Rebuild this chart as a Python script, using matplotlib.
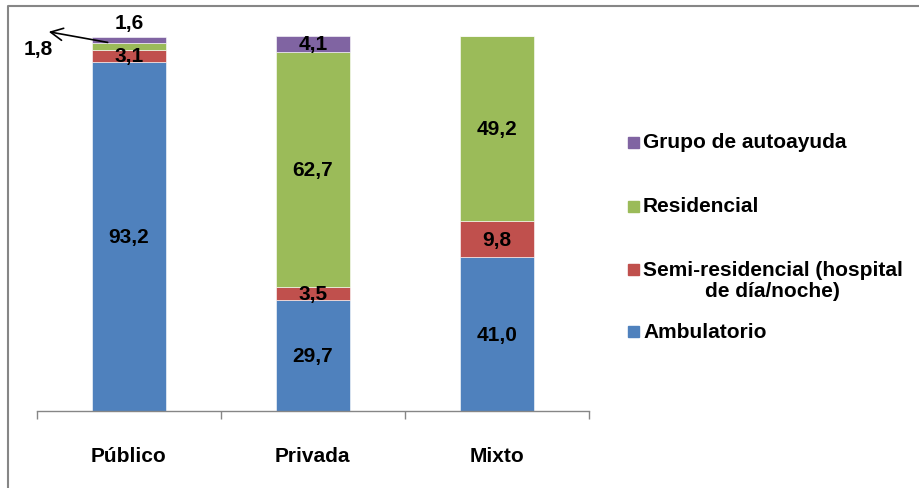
import numpy as np
import matplotlib.pyplot as plt
from matplotlib.lines import Line2D
from matplotlib.patches import Rectangle

plt.rcParams['font.family'] = ['Liberation Sans', 'DejaVu Sans']

categorias = ['Público', 'Privada', 'Mixto']
series = ['Ambulatorio', 'Semi-residencial (hospital\nde día/noche)', 'Residencial', 'Grupo de autoayuda']
ambulatorio = [93.2, 29.7, 41.0]
semi = [3.1, 3.5, 9.8]
residencial = [1.8, 62.7, 49.2]
autoayuda = [1.6, 4.1, 0.0]
colores = ['#4F81BD', '#C0504D', '#9BBB59', '#8064A2']

valores = [ambulatorio, semi, residencial, autoayuda]

fig = plt.figure(figsize=(9.2, 4.89), dpi=100)
ax = fig.add_axes([0.040, 0.157, 0.600, 0.767])

x = np.arange(len(categorias))
base = np.zeros(len(categorias))
for i, vals in enumerate(valores):
    vals = np.array(vals)
    ax.bar(x, vals, 0.4, bottom=base, color=colores[i], edgecolor='white', linewidth=0.4)
    for j in range(len(categorias)):
        if vals[j] <= 0:
            continue
        txt = f'{vals[j]:.1f}'.replace('.', ',')
        if j == 0 and i == 3:
            # por encima de la barra
            ax.text(x[j], base[j] + vals[j] + 1.5, txt, ha='center', va='bottom',
                    fontsize=15, fontweight='bold')
        elif j == 0 and i == 2:
            # etiqueta fuera, a la izquierda
            ax.text(-0.49, 96.8, txt, ha='center', va='center', fontsize=15,
                    fontweight='bold', clip_on=False)
        else:
            ax.text(x[j], base[j] + vals[j] / 2, txt, ha='center', va='center',
                    fontsize=15, fontweight='bold')
    base = base + vals

ax.set_xlim(-0.5, 2.5)
ax.set_ylim(0, 100)
ax.set_yticks([])
ax.set_xticks(x)
ax.set_xticklabels(categorias, fontsize=15, fontweight='bold')
ax.tick_params(axis='x', which='major', length=0, pad=25)
ax.set_xticks([-0.5, 0.5, 1.5, 2.5], minor=True)
ax.tick_params(axis='x', which='minor', length=6, color='#868686', width=1)
for s in ['top', 'right', 'left']:
    ax.spines[s].set_visible(False)
ax.spines['bottom'].set_color('#868686')
ax.spines['bottom'].set_linewidth(1)

# flecha de 1,8
ax.annotate('', xy=(-0.45, 101.3), xytext=(-0.1, 98.2),
            arrowprops=dict(arrowstyle='->', color='black', lw=1.2, mutation_scale=22),
            annotation_clip=False)

# leyenda
leg_y = [332, 270, 207, 143]
for i in range(len(series)):
    yf = 1 - leg_y[i] / 489
    fig.patches.append(Rectangle((628 / 920, yf - 5.5 / 489), 11 / 920, 11 / 489,
                                 transform=fig.transFigure, color=colores[i]))
    if '\n' in series[i]:
        fig.text(643 / 920, yf + 9 / 489, series[i], ha='left', va='top',
                 fontsize=15, fontweight='bold', multialignment='center', linespacing=1.15)
    else:
        fig.text(643 / 920, yf, series[i], ha='left', va='center',
                 fontsize=15, fontweight='bold')

# marco
fig.add_artist(Line2D([8 / 920, 8 / 920, 1], [0, 1 - 7 / 489, 1 - 7 / 489],
                      transform=fig.transFigure, color='#868686', lw=1.5))

fig.savefig('out.png', dpi=100)
